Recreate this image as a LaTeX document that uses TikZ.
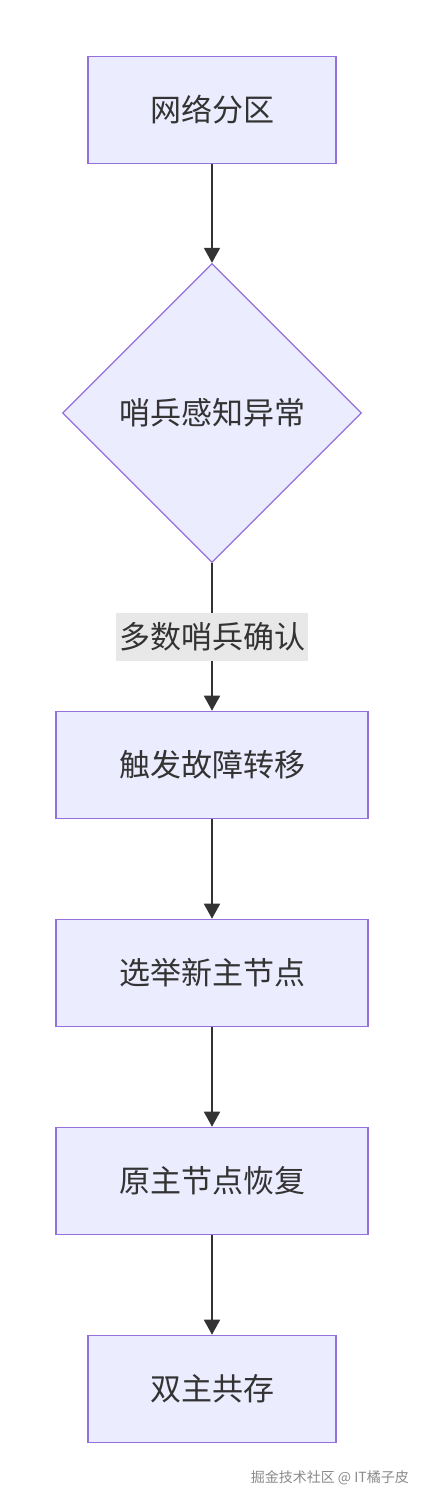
\documentclass[tikz,border=0pt]{standalone}
\usepackage{fontspec}
\setmainfont{Noto Sans CJK SC}
\usetikzlibrary{shapes.geometric,arrows.meta}
\definecolor{boxfill}{HTML}{ECECFF}
\definecolor{boxline}{HTML}{9370DB}
\definecolor{ink}{HTML}{333333}
\definecolor{lblbg}{HTML}{E8E8E8}
\definecolor{wm}{HTML}{8A8A8A}
\tikzset{
  procbox/.style={draw=boxline, fill=boxfill, line width=1.6pt, text=ink, font=\fontsize{31}{34}\selectfont, inner sep=0pt},
  decbox/.style={diamond, draw=boxline, fill=boxfill, line width=1.3pt, text=ink, font=\fontsize{31}{34}\selectfont, minimum width=299pt, minimum height=299pt, inner sep=0pt, aspect=1},
  flow/.style={draw=ink, line width=1.8pt, -{Triangle[length=15pt,width=16pt]}},
  lbl/.style={fill=lblbg, text=ink, font=\fontsize{31}{34}\selectfont, inner sep=0pt, minimum width=192pt, minimum height=48pt},
}
\begin{document}
\begin{tikzpicture}[x=1pt,y=-1pt]
\useasboundingbox (0,0) rectangle (424,1500);
\fill[white] (0,0) rectangle (424,1500);
\node[procbox, minimum width=248pt, minimum height=107pt] (a) at (212,110) {网络分区};
\node[decbox] (b) at (212,413) {哨兵感知异常};
\node[procbox, minimum width=312pt, minimum height=107pt] (c) at (212,765) {触发故障转移};
\node[procbox, minimum width=312pt, minimum height=107pt] (d) at (212,973) {选举新主节点};
\node[procbox, minimum width=312pt, minimum height=107pt] (e) at (212,1181) {原主节点恢复};
\node[procbox, minimum width=248pt, minimum height=107pt] (f) at (212,1389) {双主共存};
\draw[flow] (a) -- (b);
\draw[flow] (b) -- node[lbl] (l) {多数哨兵确认} (c);
\draw[flow] (c) -- (d);
\draw[flow] (d) -- (e);
\draw[flow] (e) -- (f);
\node[anchor=east, text=wm, font=\fontsize{14}{16}\selectfont, inner sep=0pt] (w) at (409,1478) {掘金技术社区 @ IT橘子皮};
\end{tikzpicture}
\end{document}
